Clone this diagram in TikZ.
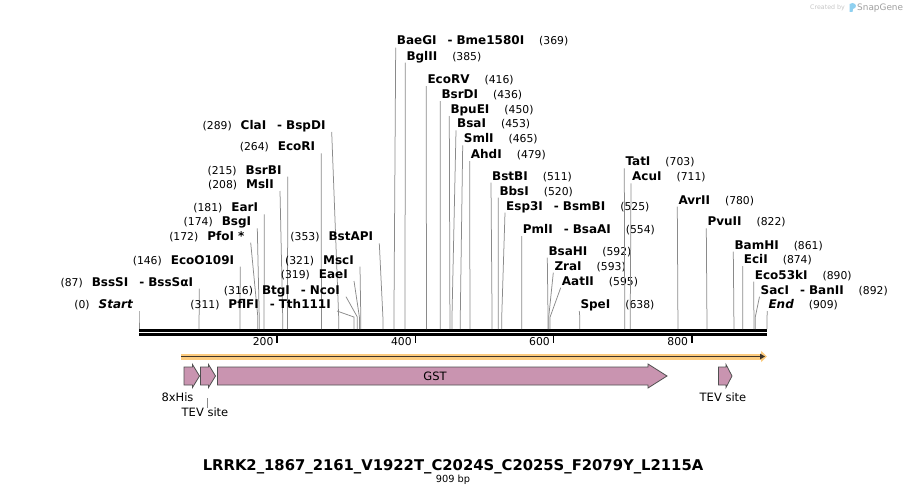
\documentclass[tikz,border=0pt]{standalone}
\usepackage{fontspec}
\setmainfont{DejaVu Sans}
\usepackage{xcolor}
\usepackage{tikz}
\usetikzlibrary{arrows.meta}

\definecolor{sitegray}{HTML}{8A8A8A}
\definecolor{featpink}{HTML}{C994B0}
\definecolor{featedge}{HTML}{505050}
\definecolor{orfband}{HTML}{FCCB7E}
\definecolor{orfline}{HTML}{3E352B}
\definecolor{snapblue}{HTML}{8FD0F0}

\newcommand{\enz}[1]{{\fontsize{12}{14}\selectfont\bfseries #1}}
\newcommand{\bpnum}[1]{{\fontsize{10.8}{12}\selectfont #1}}
\newcommand{\enzsep}{\hspace{11pt}-\hspace{4pt}}

\begin{document}
\begin{tikzpicture}[x=1pt, y=-1pt,
    lsite/.style={anchor=base east, inner xsep=6pt, inner ysep=2.5pt, text depth=0pt},
    rsite/.style={anchor=base west, inner xsep=1pt, inner ysep=2.5pt, text depth=0pt},
    cutline/.style={sitegray, line width=0.75pt},
    feature/.style={fill=featpink, draw=featedge, line width=0.8pt},
    featlabel/.style={font=\fontsize{11.5}{13}\selectfont, inner sep=0pt}]
    \useasboundingbox (0,0) rectangle (907,495);

    % sequence bar
    \coordinate (seqstart) at (139,330.3);
    \coordinate (seqend) at (767,330.3);
    \draw[line width=2.7pt] (seqstart) -- (seqend);
    \draw[line width=2.5pt] ([yshift=-4.3pt]seqstart) -- ([yshift=-4.3pt]seqend);

    % ruler
    \foreach \t in {200,400,600,800} {
        \draw[line width=1.6pt] ({139+\t*0.6909},336) coordinate (tick\t) -- ++(0,7);
        \node[anchor=base east, inner sep=0pt] (ticklbl\t) at ({139+\t*0.6909-3.5},345) {\bpnum{\t}};
    }

    % sites, labels on the left
    \foreach \bp/\lx/\ly/\txt in {
        0/139/308.3/{\itshape Start},
        87/199.3/286/{BssSI\enzsep BssSαI},
        146/240.3/264/{EcoO109I},
        172/250.7/240/{PfoI *},
        174/257.3/225.7/{BsgI},
        181/264.3/211.7/{EarI},
        208/280/188.3/{MslI},
        215/287.7/174/{BsrBI},
        264/321.3/150.7/{EcoRI},
        289/331.7/129.3/{ClaI\enzsep BspDI},
        311/337/308.3/{PflFI\enzsep Tth111I},
        316/346/294/{BtgI\enzsep NcoI},
        319/354/278.3/{EaeI},
        321/360/264/{MscI},
        353/379.3/240.7/{BstAPI}} {
        \coordinate (bar\bp) at ({139+\bp*0.6909},329);
        \coordinate (knee\bp) at ({139+\bp*0.6909},317);
        \node[lsite] (site\bp) at (\lx,\ly) {\bpnum{(\bp)}\hspace{9pt}\enz{\txt}};
        \draw[cutline] (site\bp.south east) -- (knee\bp) -- (bar\bp);
    }

    % sites, labels on the right
    \foreach \bp/\lx/\ly/\txt in {
        369/395.7/45/{BaeGI\enzsep Bme1580I},
        385/405.3/60/{BglII},
        416/426.3/83.3/{EcoRV},
        436/440.3/98.3/{BsrDI},
        450/449.3/113.3/{BpuEI},
        453/456/127.7/{BsaI},
        465/462.7/142.7/{SmlI},
        479/469.7/158.3/{AhdI},
        511/491/180/{BstBI},
        520/498.3/195/{BbsI},
        525/505/210/{Esp3I\enzsep BsmBI},
        554/521.7/233.3/{PmlI\enzsep BsaAI},
        592/547.3/255/{BsaHI},
        593/553.3/270/{ZraI},
        595/560.7/285/{AatII},
        638/579.3/308.3/{SpeI},
        703/624.3/165.7/{TatI},
        711/631/180.7/{AcuI},
        780/677.3/204/{AvrII},
        822/706.3/225.7/{PvuII},
        861/733.3/249/{BamHI},
        874/742.7/263.3/{EciI},
        890/753.7/279/{Eco53kI},
        892/759.5/294/{SacI\enzsep BanII},
        909/767.3/308.3/{\itshape End}} {
        \coordinate (bar\bp) at ({139+\bp*0.6909},329);
        \coordinate (knee\bp) at ({139+\bp*0.6909},317);
        \node[rsite] (site\bp) at (\lx,\ly) {\enz{\txt}\hspace{15pt}\bpnum{(\bp)}};
        \draw[cutline] (site\bp.south west) -- (knee\bp) -- (bar\bp);
    }

    % open reading frame
    \coordinate (orfstart) at (181,356.5);
    \coordinate (orfend) at (767,356.5);
    \draw[orfband, line width=6pt, -{Triangle[length=6pt,width=11pt]}] (orfstart) -- (orfend);
    \draw[orfline, line width=1.8pt, -{Triangle[length=5pt,width=5.5pt]}] (orfstart) -- ([xshift=-2pt]orfend);

    % features
    \draw[feature] (184,367) -- (192.5,367) -- (192.5,364.5) -- (199.5,376) -- (192.5,387.5) -- (192.5,385) -- (184,385) -- cycle;
    \draw[feature] (200.5,367) -- (208.5,367) -- (208.5,364.5) -- (215.5,376) -- (208.5,387.5) -- (208.5,385) -- (200.5,385) -- cycle;
    \draw[feature] (217.5,367) -- (648,367) -- (648,364) -- (667,376) -- (648,388) -- (648,385) -- (217.5,385) -- cycle;
    \draw[feature] (718.5,367) -- (726,367) -- (726,364.5) -- (732,376) -- (726,387.5) -- (726,385) -- (718.5,385) -- cycle;
    \node[featlabel] (gstlbl) at (435,376) {GST};
    \node[featlabel] (hislbl) at (177.5,397) {8xHis};
    \node[featlabel, anchor=north] (tevAlbl) at (205,408) {TEV site};
    \coordinate (tevAleader) at (207.5,398);
    \draw[sitegray, line width=0.6pt] (tevAleader) -- (tevAlbl.north -| tevAleader);
    \node[featlabel] (tevBlbl) at (723,397) {TEV site};

    % title
    \node[anchor=base, inner sep=0pt] (title) at (453,470) {\fontsize{14.8}{17}\selectfont\bfseries LRRK2\_1867\_2161\_V1922T\_C2024S\_C2025S\_F2079Y\_L2115A};
    \node[anchor=base, inner sep=0pt] (bplen) at (453,482) {\fontsize{9.8}{11}\selectfont 909 bp};

    % credit
    \node[anchor=base west, inner sep=0pt, text=gray!45] (created) at (810,10) {\fontsize{6.3}{7}\selectfont Created by};
    \fill[snapblue] (849.5,12) -- (849.5,4) -- (852.5,3) .. controls (857,3.5) and (857,8) .. (853,9) -- (852.5,12) -- cycle;
    \node[anchor=base west, inner sep=0pt, text=gray!75] (snapgene) at (857,10.5) {\fontsize{8.9}{10}\selectfont SnapGene};
\end{tikzpicture}
\end{document}
